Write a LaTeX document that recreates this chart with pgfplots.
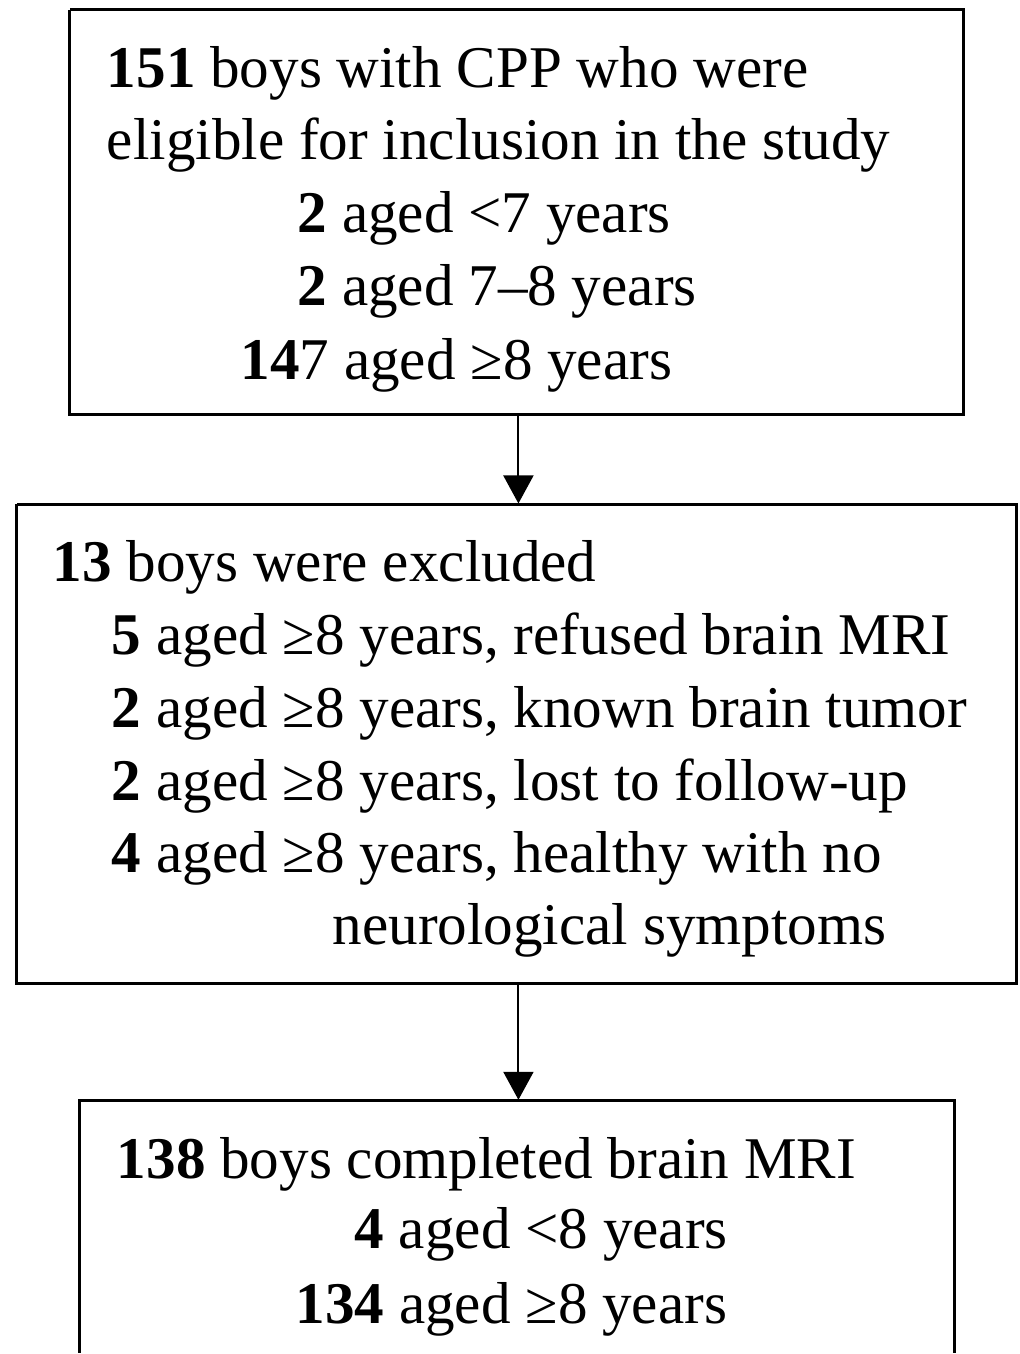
\documentclass[border=0pt]{standalone}
\usepackage{fontspec}
\setmainfont{Liberation Serif}
\usepackage{pgfplots}
\pgfplotsset{compat=1.18}
\usetikzlibrary{arrows.meta}
\tikzset{txt/.style={font=\fontsize{59.2}{70}\selectfont, inner sep=0pt, outer sep=0pt, anchor=base west}}
\begin{document}
\begin{tikzpicture}
\begin{axis}[
  x=1pt, y=1pt, y dir=reverse,
  xmin=0, xmax=1021, ymin=0, ymax=1354,
  hide axis, clip=false,
]
% invisible corners to fix the picture size
\addplot[draw=none, forget plot] coordinates {(0,0) (1021,1354)};
% boxes
\addplot[black, line width=3pt, mark=none] coordinates {(70,10) (965,10) (965,415) (70,415) (70,10)};
\addplot[black, line width=3pt, mark=none] coordinates {(17,505) (1018,505) (1018,985) (17,985) (17,505)};
\addplot[black, line width=3pt, mark=none] coordinates {(80,1354) (80,1102) (956,1102) (956,1354)};
% arrows
\addplot[black, line width=2pt, mark=none, -{Triangle[width=30pt,length=28pt]}] coordinates {(519,416) (519,504)};
\addplot[black, line width=2pt, mark=none, -{Triangle[width=30pt,length=28pt]}] coordinates {(519,986) (519,1101)};
% box 1 text
\node[txt] at (axis cs:107,88) {\textbf{151} boys with CPP who were};
\node[txt] at (axis cs:107,160) {eligible for inclusion in the study};
\node[txt] at (axis cs:298,233) {\textbf{2} aged <7 years};
\node[txt] at (axis cs:298,306) {\textbf{2} aged 7–8 years};
\node[txt] at (axis cs:241,380) {\textbf{14}7 aged ≥8 years};
% box 2 text
\node[txt] at (axis cs:53,582) {\textbf{13} boys were excluded};
\node[txt] at (axis cs:112,655) {\textbf{5} aged ≥8 years, refused brain MRI};
\node[txt] at (axis cs:112,728) {\textbf{2} aged ≥8 years, known brain tumor};
\node[txt] at (axis cs:112,801) {\textbf{2} aged ≥8 years, lost to follow-up};
\node[txt] at (axis cs:112,873) {\textbf{4} aged ≥8 years, healthy with no};
\node[txt] at (axis cs:333,946) {neurological symptoms};
% box 3 text
\node[txt] at (axis cs:117,1180) {\textbf{138} boys completed brain MRI};
\node[txt] at (axis cs:355,1250) {\textbf{4} aged <8 years};
\node[txt] at (axis cs:296,1325) {\textbf{134} aged ≥8 years};
\end{axis}
\end{tikzpicture}
\end{document}
